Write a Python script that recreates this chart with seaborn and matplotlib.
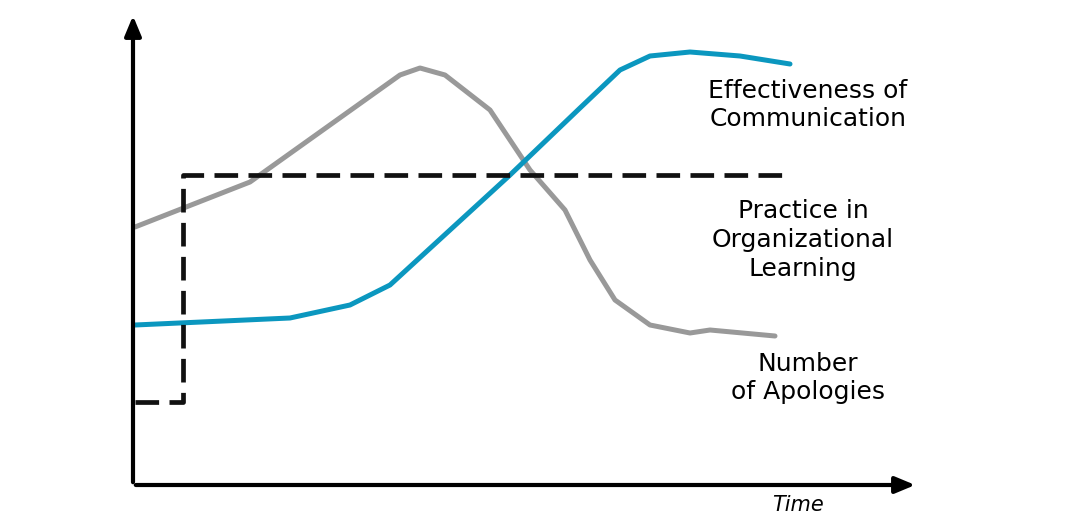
import matplotlib
matplotlib.use("Agg")
import matplotlib.pyplot as plt
import seaborn as sns
import pandas as pd

sns.set_style("white")
plt.rcParams['font.family'] = ['DejaVu Sans']

apol_x = [2, 117, 267, 287, 312, 357, 397, 432, 457, 482, 517, 557, 577, 642]
apol_y = [258, 303, 410, 417, 410, 375, 315, 275, 225, 185, 160, 152, 155, 149]
comm_x = [2, 157, 217, 257, 317, 377, 447, 487, 517, 557, 607, 657]
comm_y = [160, 167, 180, 200, 255, 310, 377, 415, 429, 433, 429, 421]
prac_x = [2, 50, 50, 657]
prac_y = [83, 83, 310, 310]

fig = plt.figure(figsize=(10.79, 5.22), dpi=100)
ax = fig.add_axes([0, 0, 1, 1])
ax.set_xlim(-133, 1079 - 133)
ax.set_ylim(485 - 522, 485)
ax.axis('off')

sns.lineplot(x=apol_x, y=apol_y, sort=False, ax=ax, color='#999999', lw=3.6,
             solid_joinstyle='round', solid_capstyle='round')
sns.lineplot(x=comm_x, y=comm_y, sort=False, ax=ax, color='#0b97bf', lw=3.6,
             solid_joinstyle='round', solid_capstyle='round')
ax.plot(prac_x, prac_y, color='#111111', lw=3.4, dashes=(5, 2.2))

# axes arrows
ax.annotate('', xy=(0, 472), xytext=(0, 0),
            arrowprops=dict(arrowstyle='-|>,head_length=1.2,head_width=0.5', lw=3, color='black'))
ax.annotate('', xy=(785, 0), xytext=(0, 0),
            arrowprops=dict(arrowstyle='-|>,head_length=1.2,head_width=0.5', lw=3, color='black'))

fs = 18
kw = dict(ha='center', va='center', fontsize=fs, linespacing=1.25, color='black')
ax.text(675, 380, 'Effectiveness of\nCommunication', **kw)
ax.text(670, 245, 'Practice in\nOrganizational\nLearning', **kw)
ax.text(675, 107, 'Number\nof Apologies', **kw)
ax.text(665, -20, 'Time', ha='center', va='center', fontsize=15, style='italic', color='black')

fig.savefig('out.png', dpi=100)
